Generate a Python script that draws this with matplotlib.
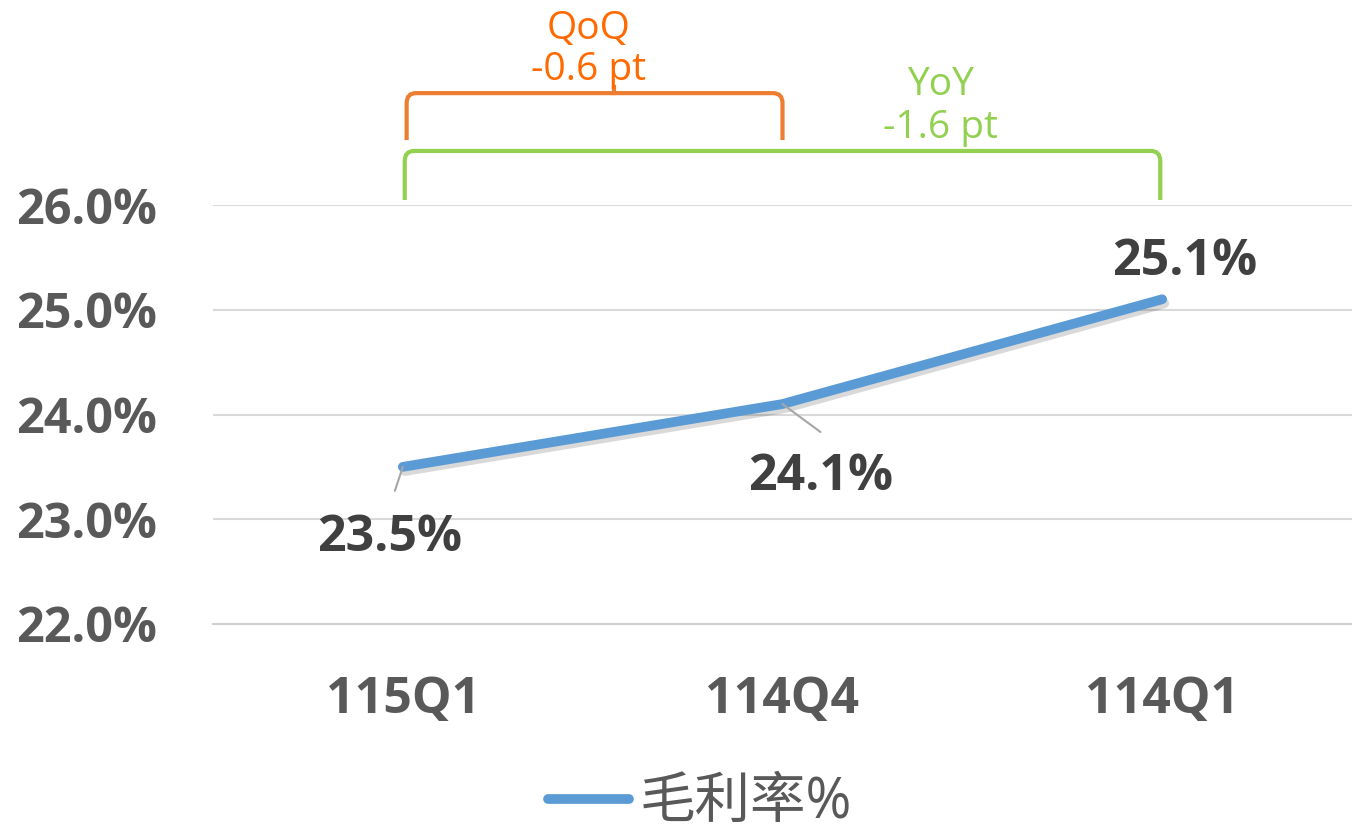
import matplotlib
matplotlib.use("Agg")
import matplotlib.pyplot as plt
import matplotlib.patheffects as pe
from matplotlib.path import Path
from matplotlib.patches import PathPatch
from matplotlib.lines import Line2D
from matplotlib.transforms import blended_transform_factory

plt.rcParams['font.family'] = ['Open Sans', 'Noto Sans CJK TC', 'DejaVu Sans']

quarters = ['115Q1', '114Q4', '114Q1']
margin = [23.5, 24.1, 25.1]
series_name = '毛利率%'
yticks = [22, 23, 24, 25, 26]
qoq_text = ['QoQ', '-0.6 pt']
yoy_text = ['YoY', '-1.6 pt']

blue = '#5B9BD5'
grey_txt = '#595959'
label_col = '#404040'

fig = plt.figure(figsize=(13.52, 8.32), dpi=100)
ax = fig.add_axes([213 / 1352, 208 / 832, 1139 / 1352, 419 / 832])

xs = list(range(len(quarters)))
ax.plot(xs, margin, color=blue, lw=7, solid_capstyle='round', zorder=3,
        path_effects=[pe.SimpleLineShadow(offset=(1.5, -3), shadow_color='#000000', alpha=0.15),
                      pe.Normal()])

ax.set_xlim(-0.5, 2.5)
ax.set_ylim(22, 26)
ax.set_yticks(yticks)
ax.set_yticklabels(['%.1f%%' % v for v in yticks])
ax.set_xticks(xs)
ax.set_xticklabels(quarters)
ax.grid(axis='y', color='#D9D9D9', lw=1.5)
ax.set_axisbelow(True)
for s in ['top', 'right', 'left']:
    ax.spines[s].set_visible(False)
ax.spines['bottom'].set_color('#D0D0D0')
ax.spines['bottom'].set_linewidth(1.5)
ax.tick_params(axis='y', length=0, pad=40, labelsize=35, labelcolor=grey_txt)
ax.tick_params(axis='x', length=0, pad=37, labelsize=36, labelcolor=grey_txt)
for t in ax.get_xticklabels() + ax.get_yticklabels():
    t.set_fontweight('bold')

# data labels with leader lines
label_off = [(-13, -71), (38, -73), (22, 37)]
leader_off = [(-8, -24), (38, -28), None]
for x, v, off, lead in zip(xs, margin, label_off, leader_off):
    if lead is not None:
        ax.annotate('', xy=(x, v), xytext=lead, textcoords='offset pixels',
                    arrowprops=dict(arrowstyle='-', color='#A6A6A6', lw=1.5,
                                    shrinkA=0, shrinkB=0), zorder=4)
    ax.annotate('%.1f%%' % v, xy=(x, v), xytext=off, textcoords='offset pixels',
                ha='center', va='center', fontsize=36, fontweight='bold',
                color=label_col, zorder=5)

# brackets
tr = blended_transform_factory(ax.transData, ax.transAxes)


def bracket(x0, x1, ybot, ytop, color, notch=None):
    rx, ry = 0.025, 0.024
    verts = [(x0, ybot), (x0, ytop - ry), (x0, ytop), (x0 + rx, ytop),
             (x1 - rx, ytop), (x1, ytop), (x1, ytop - ry), (x1, ybot)]
    codes = [Path.MOVETO, Path.LINETO, Path.CURVE3, Path.CURVE3,
             Path.LINETO, Path.CURVE3, Path.CURVE3, Path.LINETO]
    ax.add_patch(PathPatch(Path(verts, codes), fill=False, edgecolor=color,
                           lw=3, transform=tr, clip_on=False, capstyle='butt'))
    if notch is not None:
        ax.plot([notch, notch], [ytop, ytop + 0.015], color=color, lw=3,
                transform=tr, clip_on=False)


bracket(0.01, 1.0, 1.155, 1.267, '#ED7D31', notch=0.555)
bracket(0.005, 1.995, 1.012, 1.129, '#92D050')

ax.text(0.49, 1.42, qoq_text[0], transform=tr, ha='center', va='center',
        fontsize=28, color='#FF6A00')
ax.text(0.49, 1.322, qoq_text[1], transform=tr, ha='center', va='center',
        fontsize=28, color='#FF6A00')
ax.text(1.415, 1.286, yoy_text[0], transform=tr, ha='center', va='center',
        fontsize=28, color='#92D050')
ax.text(1.415, 1.184, yoy_text[1], transform=tr, ha='center', va='center',
        fontsize=28, color='#92D050')

handle = Line2D([], [], color=blue, lw=7, solid_capstyle='round')
leg = fig.legend([handle], [series_name], loc='lower center',
                 bbox_to_anchor=(0.518, 0.0), frameon=False, borderpad=0,
                 borderaxespad=0, fontsize=40, handlelength=1.45,
                 handletextpad=0.2)
for t in leg.get_texts():
    t.set_color(grey_txt)

fig.savefig('out.png', dpi=100)
